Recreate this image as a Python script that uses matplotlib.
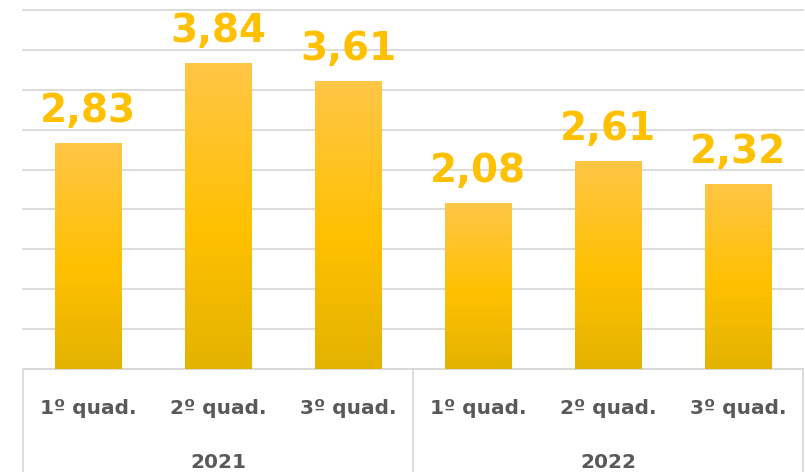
import numpy as np
import matplotlib.pyplot as plt
from matplotlib.colors import LinearSegmentedColormap
from matplotlib.transforms import blended_transform_factory

# data
quads = ['1º quad.', '2º quad.', '3º quad.', '1º quad.', '2º quad.', '3º quad.']
values = [2.83, 3.84, 3.61, 2.08, 2.61, 2.32]
years = ['2021', '2022']
per_year = 3

W, H = 805, 472
fig = plt.figure(figsize=(W / 100, H / 100), dpi=100)
ax = fig.add_axes([23 / W, 1 - 369 / H, 780 / W, 359 / H])

x = np.arange(len(values))
bars = ax.bar(x, values, width=0.51, color='none', zorder=3)

# vertical gradient like the office fill (light top -> yellow -> dark gold)
cmap = LinearSegmentedColormap.from_list(
    'gold', [(0.0, '#E3B300'), (0.45, '#FFC000'), (1.0, '#FFC646')])
grad = np.linspace(0, 1, 256).reshape(-1, 1)
for b in bars:
    x0, y0 = b.get_x(), b.get_y()
    im = ax.imshow(grad, extent=[x0, x0 + b.get_width(), y0, y0 + b.get_height()],
                   origin='lower', aspect='auto', cmap=cmap, zorder=3)
    im.set_clip_path(b)

for xi, v in zip(x, values):
    ax.text(xi, v + 0.265, f'{v:.2f}'.replace('.', ','), ha='center', va='baseline',
            fontsize=28, fontweight='bold', color='#FFC000', family='DejaVu Sans')

ax.set_xlim(-0.5, len(values) - 0.5)
ax.set_ylim(0, 4.5)
ax.set_yticks(np.arange(0, 4.51, 0.5))
ax.yaxis.grid(True, color='#D9D9D9', linewidth=1.3)
for gl in ax.get_ygridlines():
    gl.set_clip_on(False)
ax.set_axisbelow(True)
ax.tick_params(left=False, labelleft=False, bottom=False, labelbottom=False)
for s in ['top', 'right', 'left']:
    ax.spines[s].set_visible(False)
ax.spines['bottom'].set_color('#D9D9D9')
ax.spines['bottom'].set_linewidth(1.3)

# category labels with year groups
tr = blended_transform_factory(ax.transData, ax.transAxes)
dy = 1 / 359
for xi, q in zip(x, quads):
    ax.text(xi, -45 * dy, q, transform=tr, ha='center', va='baseline',
            fontsize=14.5, fontweight='bold', color='#595959', family='DejaVu Sans')
for i, yr in enumerate(years):
    c = i * per_year + (per_year - 1) / 2
    ax.text(c, -99 * dy, yr, transform=tr, ha='center', va='baseline',
            fontsize=14.5, fontweight='bold', color='#595959', family='DejaVu Sans')
for sep in [-0.5, 2.5, 5.5]:
    ax.plot([sep, sep], [0, -110 * dy], transform=tr, color='#D9D9D9',
            linewidth=1.3, clip_on=False)

fig.savefig('out.png', dpi=100)
